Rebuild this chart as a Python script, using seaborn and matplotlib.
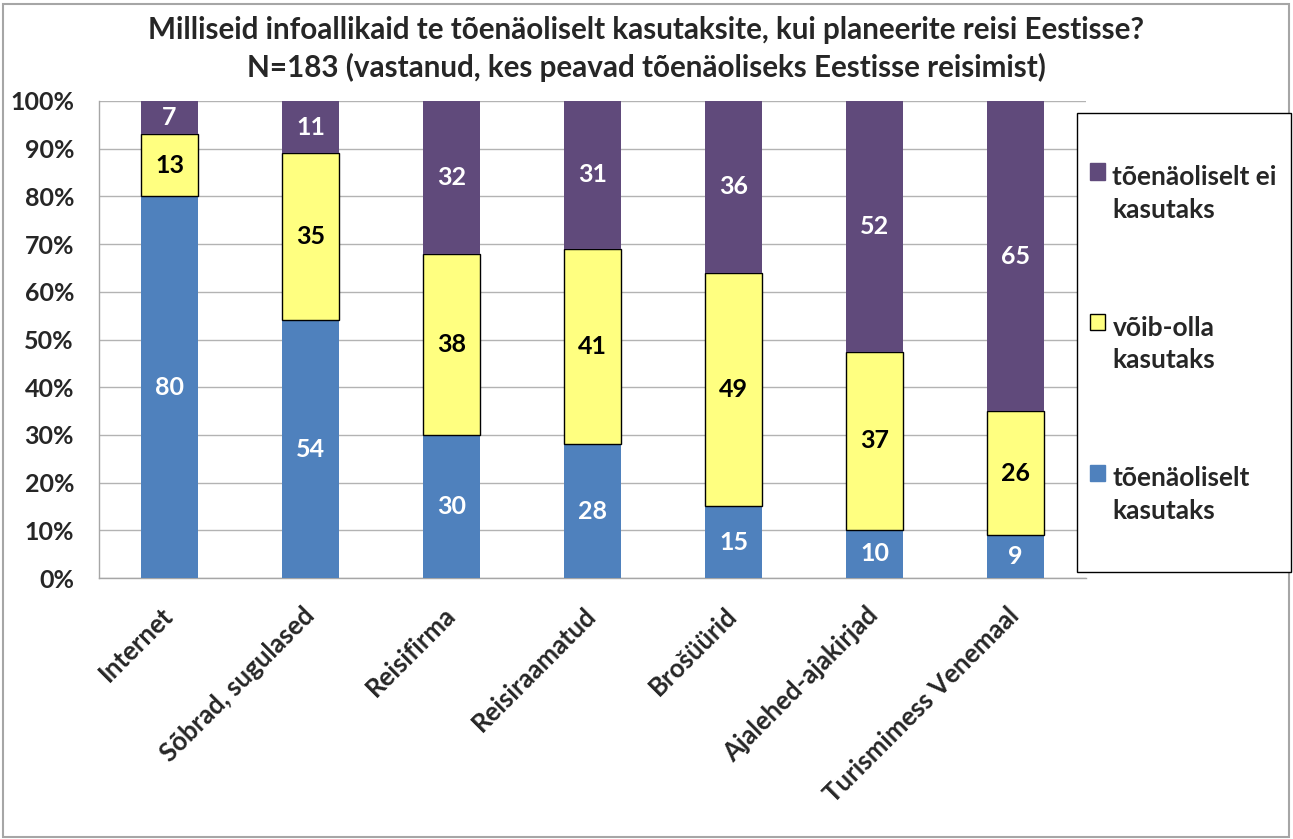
import matplotlib
matplotlib.use("Agg")
import matplotlib.pyplot as plt
import seaborn as sns
import numpy as np
from matplotlib.patches import Rectangle, Patch
from matplotlib.legend_handler import HandlerPatch

# ---------------- data ----------------
categories = ["Internet", "Sõbrad, sugulased", "Reisifirma", "Reisiraamatud",
              "Brošüürid", "Ajalehed-ajakirjad", "Turismimess Venemaal"]
would_use = [80, 54, 30, 28, 15, 10, 9]          # tõenäoliselt kasutaks
maybe_use = [13, 35, 38, 41, 49, 37, 26]         # võib-olla kasutaks
would_not_use = [7, 11, 32, 31, 36, 52, 65]      # tõenäoliselt ei kasutaks
legend_labels = ["tõenäoliselt\nkasutaks", "võib-olla\nkasutaks", "tõenäoliselt ei\nkasutaks"]
y_ticks = [0, 10, 20, 30, 40, 50, 60, 70, 80, 90, 100]
title = ("Milliseid infoallikaid te tõenäoliselt kasutaksite, kui planeerite reisi Eestisse?\n"
         "N=183 (vastanud, kes peavad tõenäoliseks Eestisse reisimist)")

# ---------------- style ----------------
sns.set_theme(style="white")
plt.rcParams['font.family'] = ['Lato', 'DejaVu Sans']
plt.rcParams['font.weight'] = 'bold'

W, H = 1293, 839
fig = plt.figure(figsize=(W / 100, H / 100), dpi=100)
fig.patch.set_facecolor("white")
ax = fig.add_axes([99 / W, 1 - 578 / H, (1086 - 99) / W, (578 - 101) / H])

raw = np.array([would_use, maybe_use, would_not_use], dtype=float)
shares = raw / raw.sum(axis=0) * 100
bottoms = np.vstack([np.zeros(len(categories)), np.cumsum(shares, axis=0)[:-1]])

colors = ["#4F81BD", "#FFFF80", "#604A7B"]
edgecolors = ["#4F81BD", "black", "#604A7B"]
linewidths = [0, 1.0, 0]
text_colors = ["white", "black", "white"]

for i in range(3):
    sns.barplot(x=categories, y=shares[i], bottom=bottoms[i], color=colors[i],
                saturation=1, width=0.4, edgecolor=edgecolors[i],
                linewidth=linewidths[i], ax=ax, zorder=3)

for i in range(3):
    ax.bar_label(ax.containers[i], labels=[f"{int(v)}" for v in raw[i]],
                 label_type="center", color=text_colors[i], fontsize=18,
                 fontweight="bold", zorder=5)

# axes
ax.set_xlim(-0.5, len(categories) - 0.5)
ax.set_ylim(0, 100)
ax.set_yticks(y_ticks)
ax.set_yticklabels([f"{v}%" for v in y_ticks], fontsize=18, fontweight="bold")
ax.set_xticks(range(len(categories)))
ax.set_xticklabels(categories, rotation=45, ha="right", va="center",
                   rotation_mode="anchor", fontsize=18.5, fontweight="bold")
ax.set_xticks(np.arange(-0.5, len(categories), 1.0), minor=True)
ax.tick_params(axis="x", which="major", length=0, pad=24)
ax.tick_params(axis="x", which="minor", length=8, width=1, color="#A6A6A6", direction="out")
ax.tick_params(axis="y", which="major", length=8, width=1, color="#A6A6A6",
               direction="out", pad=10)
ax.set_xlabel("")
ax.set_ylabel("")

ax.yaxis.grid(True, color="#B3B3B3", linewidth=1)
ax.xaxis.grid(False)
ax.set_axisbelow(True)
for s in ["top", "right"]:
    ax.spines[s].set_visible(False)
for s in ["left", "bottom"]:
    ax.spines[s].set_color("#A6A6A6")
    ax.spines[s].set_linewidth(1)

# title
fig.text(0.5, 1 - 49 / H, title, ha="center", va="center", fontsize=21.3,
         fontweight="bold", linespacing=1.4)

# legend box
fig.patches.append(Rectangle((1077 / W, 1 - 572 / H), (1291 - 1077) / W, (572 - 113) / H,
                             transform=fig.transFigure, facecolor="white",
                             edgecolor="black", linewidth=1, zorder=10))


def top_aligned_square(legend, orig_handle, xdescent, ydescent, width, height, fontsize):
    shift = 0.85 * fontsize
    return Rectangle((-xdescent, -ydescent + shift), width, height)


handles = [Patch(facecolor=colors[i], edgecolor=("black" if i == 1 else colors[i]),
                 linewidth=1) for i in (2, 1, 0)]
leg = fig.legend(handles, [legend_labels[i] for i in (2, 1, 0)], loc="center left",
                 bbox_to_anchor=(1066 / W, 1 - 344 / H), frameon=False,
                 labelspacing=3.55, handlelength=0.58, handleheight=0.58,
                 handletextpad=0.28, prop={"weight": "bold", "size": 19},
                 handler_map={Patch: HandlerPatch(patch_func=top_aligned_square)})
for t in leg.get_texts():
    t.set_linespacing(1.45)
leg.set_zorder(11)

# outer border
fig.patches.append(Rectangle((3 / W, 2 / H), (W - 7) / W, (H - 6) / H,
                             transform=fig.transFigure, facecolor="none",
                             edgecolor="#A6A6A6", linewidth=1.5, zorder=0))

fig.savefig("out.png", dpi=100, facecolor="white")
